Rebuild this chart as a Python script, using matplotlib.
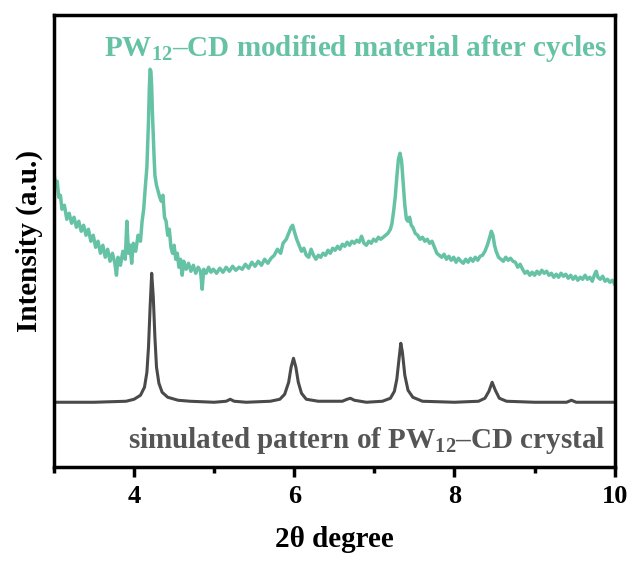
import matplotlib
matplotlib.use('Agg')
import matplotlib.pyplot as plt
from matplotlib.ticker import MultipleLocator

plt.rcParams['font.family'] = ['Liberation Serif', 'DejaVu Serif']
plt.rcParams['font.weight'] = 'bold'
plt.rcParams['mathtext.fontset'] = 'custom'
plt.rcParams['mathtext.rm'] = 'Liberation Serif:bold'
plt.rcParams['mathtext.bf'] = 'Liberation Serif:bold'
plt.rcParams['mathtext.it'] = 'Liberation Serif:bold:italic'

# experimental pattern (after cycles), intensity in a.u.
exp_x = [3.00, 3.02, 3.04, 3.06, 3.08, 3.10, 3.13, 3.16, 3.19, 3.22, 3.25, 3.28, 3.31, 3.34,
         3.37, 3.40, 3.43, 3.46, 3.49, 3.52, 3.55, 3.58, 3.61, 3.64, 3.67, 3.70, 3.73, 3.76,
         3.78, 3.80, 3.83, 3.86, 3.89, 3.91, 3.93, 3.95, 3.97, 3.99, 4.02, 4.05, 4.08, 4.10,
         4.12, 4.14, 4.16, 4.17, 4.18, 4.19, 4.20, 4.21, 4.22, 4.23, 4.24, 4.25, 4.26, 4.28,
         4.30, 4.32, 4.34, 4.36, 4.38, 4.40, 4.42, 4.44, 4.46, 4.48, 4.50, 4.52, 4.54, 4.56,
         4.58, 4.60, 4.62, 4.65, 4.68, 4.71, 4.74, 4.77, 4.80, 4.83, 4.85, 4.87, 4.90, 4.93,
         4.96, 4.99, 5.03, 5.07, 5.11, 5.15, 5.19, 5.23, 5.27, 5.31, 5.35, 5.39, 5.43, 5.47,
         5.51, 5.55, 5.59, 5.63, 5.67, 5.71, 5.75, 5.79, 5.83, 5.86, 5.90, 5.93, 5.96, 5.98,
         6.00, 6.03, 6.06, 6.09, 6.12, 6.15, 6.18, 6.21, 6.24, 6.27, 6.30, 6.33, 6.36, 6.39,
         6.42, 6.45, 6.48, 6.51, 6.54, 6.57, 6.60, 6.63, 6.66, 6.69, 6.72, 6.75, 6.78, 6.81,
         6.84, 6.87, 6.90, 6.93, 6.96, 6.99, 7.02, 7.05, 7.08, 7.11, 7.14, 7.17, 7.20, 7.22,
         7.24, 7.26, 7.28, 7.30, 7.32, 7.34, 7.36, 7.38, 7.40, 7.42, 7.44, 7.46, 7.48, 7.51,
         7.54, 7.57, 7.60, 7.63, 7.66, 7.69, 7.72, 7.75, 7.78, 7.81, 7.84, 7.87, 7.90, 7.93,
         7.96, 7.99, 8.02, 8.05, 8.08, 8.11, 8.14, 8.17, 8.20, 8.23, 8.26, 8.29, 8.32, 8.35,
         8.38, 8.41, 8.44, 8.46, 8.48, 8.50, 8.52, 8.55, 8.58, 8.61, 8.64, 8.67, 8.70, 8.73,
         8.76, 8.79, 8.82, 8.85, 8.88, 8.91, 8.94, 8.97, 9.00, 9.03, 9.06, 9.09, 9.12, 9.15,
         9.18, 9.21, 9.24, 9.27, 9.30, 9.33, 9.36, 9.39, 9.42, 9.45, 9.48, 9.51, 9.54, 9.57,
         9.60, 9.63, 9.66, 9.69, 9.72, 9.75, 9.77, 9.79, 9.82, 9.85, 9.88, 9.91, 9.94, 9.97,
         10.00]
exp_y = [294, 282, 286, 270, 272, 258, 262, 248, 254, 244, 250, 240, 246, 236,
         242, 232, 238, 226, 232, 220, 226, 214, 222, 210, 218, 206, 214, 204,
         192, 210, 202, 216, 208, 246, 214, 222, 204, 224, 216, 232, 226, 246,
         258, 280, 300, 322, 346, 378, 398, 396, 380, 352, 330, 310, 292, 282,
         276, 270, 266, 272, 250, 246, 232, 238, 220, 214, 222, 208, 214, 200,
         208, 192, 206, 198, 204, 196, 202, 194, 200, 196, 178, 198, 194, 200,
         195, 198, 194, 199, 195, 200, 196, 201, 197, 200, 198, 203, 199, 205,
         201, 206, 202, 208, 204, 209, 212, 218, 214, 224, 228, 234, 240, 242,
         236, 228, 222, 216, 219, 212, 210, 218, 212, 208, 212, 210, 214, 212,
         217, 214, 219, 217, 221, 218, 223, 221, 225, 222, 226, 224, 227, 225,
         231, 224, 222, 226, 224, 228, 226, 230, 228, 230, 232, 234, 238, 244,
         256, 270, 290, 308, 314, 306, 284, 262, 248, 246, 250, 242, 240, 234,
         232, 228, 230, 226, 228, 224, 226, 220, 214, 212, 210, 213, 208, 211,
         207, 210, 205, 209, 206, 204, 208, 205, 209, 206, 210, 207, 211, 212,
         216, 222, 230, 236, 232, 222, 216, 210, 208, 206, 210, 207, 209, 206,
         205, 200, 203, 198, 194, 196, 192, 195, 192, 196, 193, 197, 194, 196,
         192, 194, 190, 193, 190, 194, 191, 193, 189, 192, 188, 191, 187, 190,
         188, 192, 188, 190, 186, 193, 196, 190, 188, 191, 186, 188, 185, 187,
         183]

# simulated pattern of the crystal
sim_x = [3.00, 3.50, 3.90, 4.00, 4.08, 4.13, 4.16, 4.18, 4.20, 4.22, 4.24, 4.26, 4.28,
         4.31, 4.35, 4.42, 4.55, 4.70, 5.00, 5.15, 5.20, 5.25, 5.40, 5.70, 5.82, 5.88,
         5.93, 5.96, 5.99, 6.02, 6.05, 6.09, 6.15, 6.30, 6.60, 6.66, 6.70, 6.75, 6.90,
         7.10, 7.20, 7.25, 7.28, 7.31, 7.33, 7.35, 7.38, 7.42, 7.48, 7.60, 8.00, 8.30,
         8.38, 8.43, 8.47, 8.51, 8.56, 8.65, 9.00, 9.40, 9.46, 9.52, 10.00]
sim_y = [65, 65, 66, 68, 72, 80, 95, 120, 160, 194, 170, 130, 100,
         84, 75, 70, 67, 66, 65, 66, 68, 66, 65, 66, 68, 73,
         85, 100, 109, 100, 85, 74, 68, 66, 66, 68, 69, 67, 65,
         66, 69, 76, 88, 110, 124, 115, 92, 77, 70, 66, 65, 66,
         69, 76, 85, 77, 69, 66, 65, 65, 67, 65, 65]

green = '#66c2a5'
grey = '#4a4a4a'

fig = plt.figure(figsize=(6.35, 5.65), dpi=100)
ax = fig.add_axes([0.085, 0.173, 0.883, 0.800])

ax.plot(exp_x, exp_y, color=green, lw=2.5)
ax.plot(sim_x, sim_y, color=grey, lw=2.2)

ax.text(9.9, 419, 'PW$_{12}$–CD modified material after cycles', color=green,
        fontsize=21, fontweight='bold', ha='right', va='center')
ax.text(9.88, 27, 'simulated pattern of PW$_{12}$–CD crystal', color='#555555',
        fontsize=21, fontweight='bold', ha='right', va='center')

ax.set_xlim(3, 10)
ax.set_ylim(0, 452)
ax.xaxis.set_major_locator(MultipleLocator(2))
ax.xaxis.set_minor_locator(MultipleLocator(1))
ax.set_xticks([4, 6, 8, 10])
ax.set_yticks([])
ax.tick_params(axis='x', which='major', direction='out', length=7, width=2.5,
               labelsize=19, pad=6)
ax.tick_params(axis='x', which='minor', direction='out', length=4, width=2.5)
for s in ax.spines.values():
    s.set_linewidth(2.5)

ax.set_xlabel('2θ degree', fontsize=21, fontweight='bold', labelpad=13)
ax.set_ylabel('Intensity (a.u.)', fontsize=21, fontweight='bold', labelpad=8)

fig.savefig('out.png', dpi=100)
